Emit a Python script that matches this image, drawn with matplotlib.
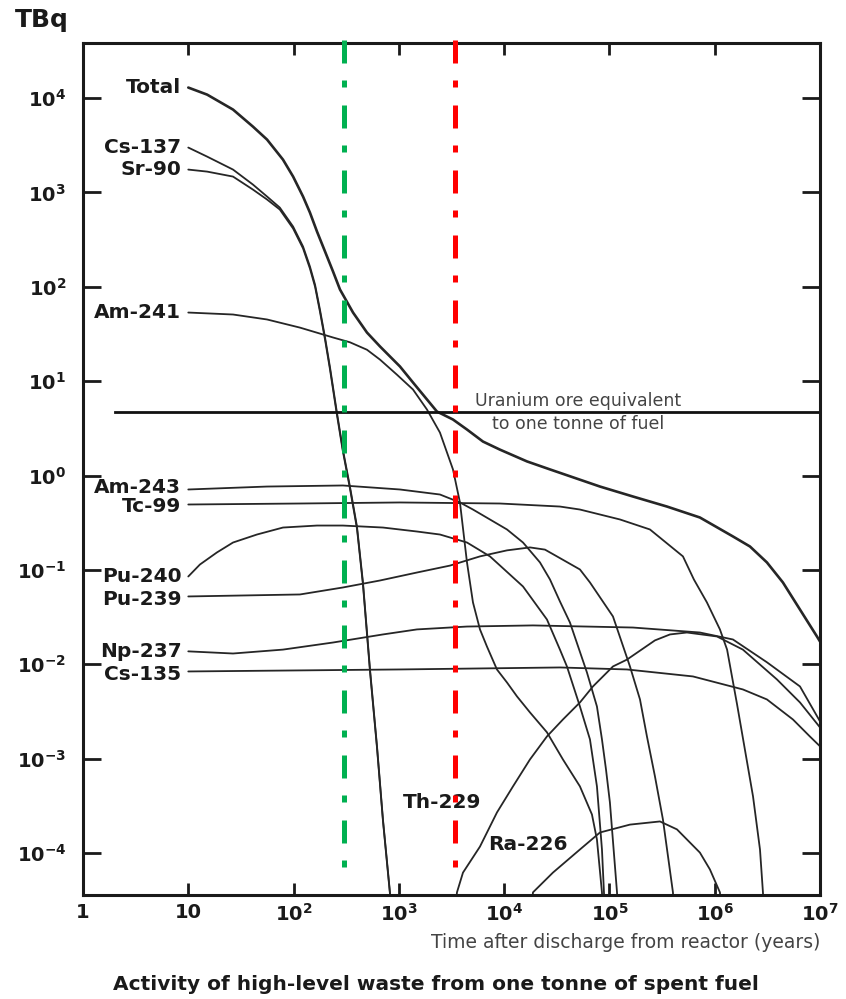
import matplotlib
matplotlib.use("Agg")
import matplotlib.pyplot as plt

plt.rcParams['font.family'] = ['DejaVu Sans']
plt.rcParams['mathtext.default'] = 'bf'

# activity (TBq) against years after discharge
total_t = [10, 15.1, 26.6, 41.1, 56, 79.3, 99, 123, 143, 167, 199, 237, 276, 367, 498, 662, 1024, 1362,
           2300, 3265, 4436, 6290, 9120, 16480, 27250, 81250, 167200, 351700, 723000, 1.49e6, 2.16e6,
           3.13e6, 4.44e6, 6.45e6, 9.35e6, 1e7]
total_a = [12900, 10860, 7540, 4977, 3625, 2225, 1470, 903, 611, 384, 236, 145, 93.4, 53.3, 32.7, 23.3, 14.3, 9.67,
           4.76, 3.92, 3.07, 2.29, 1.88, 1.41, 1.16, 0.764, 0.599, 0.469, 0.359, 0.226, 0.177,
           0.12, 0.0736, 0.038, 0.0197, 0.0174]

cs137_t = [10, 15.1, 26.6, 41.1, 56, 74, 99, 123, 143, 160, 178, 199, 222, 258, 294, 343, 400, 456, 532, 620,
           706, 823, 860]
cs137_a = [2985, 2393, 1744, 1210, 903, 690, 434, 267, 164, 105, 57.3, 29.0, 13.9, 4.65, 1.88, 0.764, 0.288,
           0.0736, 0.0088, 1.35e-3, 2.27e-4, 3.83e-5, 2.2e-5]

sr90_t = [10, 15.1, 26.6, 41.1, 56, 74, 99, 123, 143, 160, 178, 199, 222, 258, 294, 343, 400, 456, 532, 620,
          706, 823, 860]
sr90_a = [1744, 1660, 1470, 1071, 840, 658, 414, 255, 156, 100, 54.5, 27.5, 13.2, 4.4, 1.8, 0.73, 0.275,
          0.07, 0.0084, 1.3e-3, 2.2e-4, 3.7e-5, 2.1e-5]

am241_t = [10, 26.6, 56, 115, 237, 343, 498, 662, 959, 1362, 1849, 2456, 3265, 3804, 4436, 5056, 5893, 6866,
           8544, 10640, 13250, 17580, 25500, 36170, 52450, 68200, 76070, 84900, 86700]
am241_a = [53.3, 50.8, 45, 36.9, 29.0, 25.8, 21.5, 16.9, 11.7, 8.15, 5.0, 2.85, 1.16, 0.518, 0.120, 0.0452,
           0.0234, 0.0154, 0.0088, 0.00641, 0.00456, 0.00309, 0.0019, 9.8e-4, 5.08e-4, 2.56e-4, 1.39e-4,
           3.83e-5, 2.2e-5]

am243_t = [10, 56, 294, 1024, 2456, 3804, 5056, 7330, 10640, 15100, 21880, 27250, 33870, 42150, 61120, 76070,
           84900, 92700, 101000, 118000, 120500]
am243_a = [0.711, 0.764, 0.784, 0.711, 0.629, 0.518, 0.436, 0.342, 0.268, 0.195, 0.12, 0.0791, 0.0463, 0.0277,
           0.00819, 0.00357, 0.0016, 7.7e-4, 3.44e-4, 3.83e-5, 2.2e-5]

tc99_t = [10, 115, 1024, 9120, 33870, 52450, 126000, 242500, 499000, 634000, 843000, 1.12e6, 1.31e6, 1.63e6,
          2.31e6, 2.69e6, 2.87e6, 2.94e6]
tc99_a = [0.493, 0.505, 0.518, 0.505, 0.469, 0.436, 0.342, 0.268, 0.139, 0.0791, 0.0452, 0.0234, 0.0143, 0.00375,
          3.98e-4, 1.09e-4, 3.83e-5, 2.2e-5]

pu240_t = [10, 12.9, 18.7, 26.6, 44.9, 79.3, 167, 294, 706, 1486, 2456, 4436, 7330, 15100, 25500, 33870, 39470,
           52450, 65300, 76070, 84900, 88700, 90600]
pu240_a = [0.0851, 0.114, 0.153, 0.195, 0.237, 0.281, 0.295, 0.295, 0.281, 0.255, 0.237, 0.195, 0.139, 0.0667,
           0.0298, 0.0143, 0.00948, 0.00357, 0.0016, 5.08e-4, 1.09e-4, 3.83e-5, 2.2e-5]

pu239_t = [10, 115, 294, 662, 1486, 3055, 5893, 10640, 17580, 24400, 31700, 52450, 65300, 108000, 156600,
           195000, 227000, 270400, 322000, 401000, 410000]
pu239_a = [0.0523, 0.0549, 0.0651, 0.0772, 0.0938, 0.111, 0.139, 0.161, 0.173, 0.164, 0.139, 0.101, 0.0736,
           0.0321, 0.00948, 0.00424, 0.00172, 6.5e-4, 2.27e-4, 3.83e-5, 2.2e-5]

np237_t = [10, 26.6, 79.3, 237, 706, 1486, 4436, 18780, 167200, 723000, 1.49e6, 3.13e6, 6.45e6, 1e7]
np237_a = [0.0137, 0.0130, 0.0143, 0.0170, 0.0207, 0.0234, 0.0251, 0.0258, 0.0245, 0.0217, 0.0183, 0.0105,
           0.00582, 0.00248]

cs135_t = [10, 1024, 33870, 146600, 621000, 1.85e6, 3.13e6, 5.53e6, 8.0e6, 1e7]
cs135_a = [0.00839, 0.00881, 0.00925, 0.00881, 0.00743, 0.00541, 0.00424, 0.0026, 0.00172, 0.00135]

th229_t = [3410, 3563, 4064, 5893, 8544, 12130, 17580, 25500, 36170, 52450, 69700, 108000, 146600, 270400,
           375700, 544000, 1.05e6, 1.85e6, 3.90e6, 6.45e6, 1e7]
th229_a = [2.2e-5, 3.83e-5, 6.2e-5, 1.17e-4, 2.69e-4, 5.08e-4, 9.8e-4, 0.00172, 0.0026, 0.00394, 0.00582,
           0.00948, 0.0112, 0.0179, 0.0207, 0.0217, 0.0197, 0.0143, 0.0069, 0.00394, 0.00214]

ra226_t = [17970, 18780, 29050, 52450, 81250, 156600, 301800, 437700, 723000, 900000, 1.12e6, 1.17e6]
ra226_a = [2.2e-5, 3.83e-5, 6.2e-5, 1.09e-4, 1.65e-4, 2.0e-4, 2.16e-4, 1.78e-4, 1.01e-4, 6.7e-5, 3.83e-5, 2.2e-5]

ore_level = 4.76
ore_t = [2, 1e7]

mark_years = [300, 3400]
mark_colors = ['#00b050', '#ff0000']

x_ticks = [1, 10, 1e2, 1e3, 1e4, 1e5, 1e6, 1e7]
x_labels = ['1', '10', '$10^{2}$', '$10^{3}$', '$10^{4}$', '$10^{5}$', '$10^{6}$', '$10^{7}$']
y_ticks = [1e-4, 1e-3, 1e-2, 1e-1, 1, 10, 1e2, 1e3, 1e4]
y_labels = ['$10^{-4}$', '$10^{-3}$', '$10^{-2}$', '$10^{-1}$', '$10^{0}$',
            '$10^{1}$', '$10^{2}$', '$10^{3}$', '$10^{4}$']

left_curves = [
    ('Total', total_t, total_a),
    ('Cs-137', cs137_t, cs137_a),
    ('Sr-90', sr90_t, sr90_a),
    ('Am-241', am241_t, am241_a),
    ('Am-243', am243_t, am243_a),
    ('Tc-99', tc99_t, tc99_a),
    ('Pu-240', pu240_t, pu240_a),
    ('Pu-239', pu239_t, pu239_a),
    ('Np-237', np237_t, np237_a),
    ('Cs-135', cs135_t, cs135_a),
]
# small nudges so the crowded labels sit as in the original
label_nudge = {'Am-243': 1.05, 'Tc-99': 0.95, 'Pu-239': 0.93, 'Cs-135': 0.93}

line_col = '#262626'

fig = plt.figure(figsize=(8.46, 9.99), dpi=100)
ax = fig.add_axes([0.0981, 0.1041, 0.8712, 0.8529])
ax.set_xscale('log')
ax.set_yscale('log')
ax.set_xlim(1, 1e7)
ax.set_ylim(3.59e-5, 3.83e4)

for name, t, a in left_curves:
    lw = 1.9 if name == 'Total' else 1.3
    ax.plot(t, a, color=line_col, lw=lw, solid_joinstyle='round', solid_capstyle='round')
    ax.text(8.6, a[0] * label_nudge.get(name, 1.0), name, ha='right', va='center',
            fontsize=14.5, fontweight='bold', color='#1a1a1a')

ax.plot(th229_t, th229_a, color=line_col, lw=1.3, solid_joinstyle='round')
ax.plot(ra226_t, ra226_a, color=line_col, lw=1.3, solid_joinstyle='round')
ax.text(1090, 3.4e-4, 'Th-229', ha='left', va='center', fontsize=14.5,
        fontweight='bold', color='#1a1a1a')
ax.text(7000, 1.23e-4, 'Ra-226', ha='left', va='center', fontsize=14.5,
        fontweight='bold', color='#1a1a1a')

# uranium ore reference
ax.plot(ore_t, [ore_level, ore_level], color='#111111', lw=2.0)
ax.text(5e4, ore_level * 1.28, 'Uranium ore equivalent', ha='center', va='center',
        fontsize=12.5, color='#444444')
ax.text(5e4, ore_level / 1.34, 'to one tonne of fuel', ha='center', va='center',
        fontsize=12.5, color='#444444')

# dash-dot markers
for yr, col in zip(mark_years, mark_colors):
    ax.plot([yr, yr], [1.004, 0.018], transform=ax.get_xaxis_transform(),
            color=col, lw=3.6, linestyle=(0, (4.6, 3.4, 1.4, 3.6)),
            clip_on=False, zorder=5)

ax.set_xticks(x_ticks)
ax.set_xticklabels(x_labels)
ax.set_yticks(y_ticks)
ax.set_yticklabels(y_labels)
ax.minorticks_off()
ax.tick_params(axis='both', which='major', direction='in', width=2.0,
               top=True, right=True, labelsize=14, colors='#1a1a1a')
ax.tick_params(axis='y', length=13, pad=12)
ax.tick_params(axis='x', length=8.5, pad=6)
for lab in ax.get_xticklabels() + ax.get_yticklabels():
    lab.set_fontweight('bold')
for sp in ax.spines.values():
    sp.set_linewidth(2.2)
    sp.set_color('#1a1a1a')

fig.text(15 / 846, 1 - 20 / 999, 'TBq', ha='left', va='center', fontsize=18,
         fontweight='bold', color='#1a1a1a')
fig.text(820 / 846, 1 - 942 / 999, 'Time after discharge from reactor (years)',
         ha='right', va='center', fontsize=13.5, color='#444444')
fig.text(436 / 846, 1 - 985 / 999,
         'Activity of high-level waste from one tonne of spent fuel',
         ha='center', va='center', fontsize=14.5, fontweight='bold', color='#1a1a1a')

fig.savefig('out.png', dpi=100)
